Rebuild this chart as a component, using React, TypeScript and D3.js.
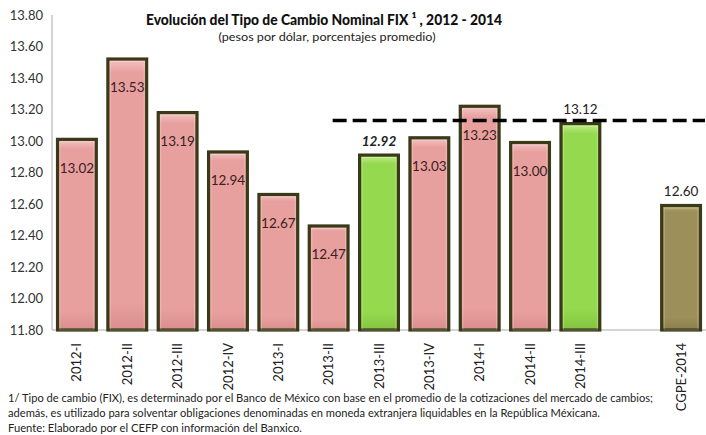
import React from 'react';
import * as d3 from 'd3';

// Quarterly FIX exchange rate (pesos per dollar)
const categories = ['2012-I', '2012-II', '2012-III', '2012-IV', '2013-I', '2013-II', '2013-III', '2013-IV', '2014-I', '2014-II', '2014-III', 'CGPE-2014'];
const values = [13.02, 13.53, 13.19, 12.94, 12.67, 12.47, 12.92, 13.03, 13.23, 13.0, 13.12, 12.6];
// kind of bar: q = quarter, h = highlighted quarter, e = estimate
const kinds = ['q', 'q', 'q', 'q', 'q', 'q', 'h', 'q', 'q', 'q', 'h', 'e'];
const yTicks = [11.8, 12.0, 12.2, 12.4, 12.6, 12.8, 13.0, 13.2, 13.4, 13.6, 13.8];
const averageLine = 13.13;

const title = 'Evolución del Tipo de Cambio Nominal FIX ¹ , 2012 - 2014';
const subtitle = '(pesos por dólar, porcentajes promedio)';
const notes = [
  '1/ Tipo de cambio (FIX), es determinado por el Banco de México con base en el promedio de la cotizaciones del mercado de cambios;',
  'además, es utilizado para solventar obligaciones  denominadas en moneda extranjera  liquidables en la República Méxicana.',
  'Fuente: Elaborado por el CEFP con información del Banxico.',
];
const noteWidths = [645, 592, 294];

const W = 706;
const H = 435;
const left = 52;
const right = 706;
const top = 15;
const bottom = 330;
const font = 'Lato, "Open Sans", sans-serif';

const fills: Record<string, string[]> = {
  q: ['#f3c4c3', '#e8a09f', '#d98e8d'],
  h: ['#c4ef8e', '#95d94f', '#83c440'],
  e: ['#beb27e', '#9c8f5a', '#8a7e4c'],
};

export default function App() {
  // the empty slot between 2014-III and CGPE-2014
  const domain = [...categories.slice(0, 11), 'gap', categories[11]];
  const x = d3.scaleBand().domain(domain).range([left, right]).paddingInner(0.17).paddingOuter(0.08);
  const y = d3.scaleLinear().domain([11.8, 13.8]).range([bottom, top]);
  const fmt = d3.format('.2f');

  const dashStart = (x('2013-II') ?? 0) + x.bandwidth() / 2 + 4;

  return (
    <svg width={W} height={H} style={{ position: 'absolute', left: 0, top: 0, background: '#fff' }}>
      <defs>
        {Object.keys(fills).map((k) => (
          <linearGradient key={k} id={'g' + k} x1="0" y1="0" x2="0" y2="1">
            <stop offset="0" stopColor={fills[k][0]} />
            <stop offset="0.05" stopColor={fills[k][1]} />
            <stop offset="0.9" stopColor={fills[k][1]} />
            <stop offset="1" stopColor={fills[k][2]} />
          </linearGradient>
        ))}
      </defs>

      {/* title */}
      <text x={324} y={25} textAnchor="middle" fontFamily={font} fontWeight="900" fontSize={15} fill="#111" textLength={356} lengthAdjust="spacingAndGlyphs">
        {title}
      </text>
      <text x={327} y={41} textAnchor="middle" fontFamily={font} fontSize={12} fill="#222" textLength={217} lengthAdjust="spacingAndGlyphs">
        {subtitle}
      </text>

      {/* y axis */}
      <line x1={left} x2={left} y1={top} y2={bottom} stroke="#aaa" />
      <line x1={left} x2={right} y1={bottom} y2={bottom} stroke="#aaa" />
      {yTicks.map((t) => (
        <text key={t} x={43} y={y(t)} dy="0.35em" textAnchor="end" fontFamily={font} fontSize={13} fill="#333">
          {fmt(t)}
        </text>
      ))}

      {/* bars */}
      {categories.map((c, i) => {
        const bx = x(c) ?? 0;
        const by = y(values[i]);
        const bw = x.bandwidth();
        const k = kinds[i];
        return (
          <g key={c}>
            <rect x={bx + 1.5} y={by + 1.5} width={bw - 3} height={bottom - by - 1.5} fill={`url(#g${k})`} stroke="#3a3a18" strokeWidth={3.2} />
            <rect x={bx + 4} y={by + 4} width={bw - 8} height={bottom - by - 4} fill="none" stroke="#fff" strokeOpacity={0.25} strokeWidth={1} />
            {k === 'q' ? (
              <text x={bx + bw / 2} y={by + 30} dy="0.35em" textAnchor="middle" fontFamily={font} fontSize={13.5} fill="#3a2020">
                {fmt(values[i])}
              </text>
            ) : (
              <text x={bx + bw / 2} y={by - 8} textAnchor="middle" fontFamily={font} fontSize={13.5}
                fill="#222" fontWeight={c === '2013-III' ? 'bold' : 'normal'} fontStyle={c === '2013-III' ? 'italic' : 'normal'}>
                {fmt(values[i])}
              </text>
            )}
          </g>
        );
      })}

      {/* average dashed line */}
      <line x1={dashStart} x2={705} y1={y(averageLine)} y2={y(averageLine)} stroke="#000" strokeWidth={3.5} strokeDasharray="14 6" />

      {/* category labels */}
      {categories.map((c) => {
        const cx = (x(c) ?? 0) + x.bandwidth() / 2;
        return (
          <text key={c} transform={`translate(${cx},${343}) rotate(-90)`} dy="0.35em" textAnchor="end" fontFamily={font} fontSize={13} fill="#222">
            {c}
          </text>
        );
      })}

      {/* notes */}
      {notes.map((n, i) => (
        <text key={i} x={8} y={402 + i * 15} fontFamily={font} fontSize={11.5} fill="#222" textLength={noteWidths[i]} lengthAdjust="spacingAndGlyphs">
          {n}
        </text>
      ))}
    </svg>
  );
}
